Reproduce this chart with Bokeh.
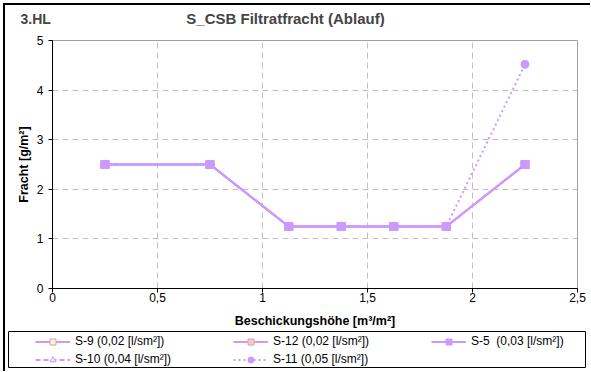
from bokeh.plotting import figure
from bokeh.layouts import column
from bokeh.models import (Range1d, FixedTicker, Label, Legend, LegendItem,
                          ColumnDataSource)
from bokeh.embed import file_html
from bokeh.resources import INLINE

# ---- data ----
x_vals = [0.25, 0.75, 1.125, 1.375, 1.625, 1.875, 2.25]
s9 = [2.5, 2.5, 1.25, 1.25, 1.25, 1.25, 2.5]
s12 = [2.5, 2.5, 1.25, 1.25, 1.25, 1.25, 2.5]
s5 = [2.5, 2.5, 1.25, 1.25, 1.25, 1.25, 2.5]
s10 = [2.5, 2.5, 1.25, 1.25, 1.25, 1.25, 2.5]
s11 = [2.5, 2.5, 1.25, 1.25, 1.25, 1.25, 4.52]
series_names = ["S-9 (0,02 [l/sm²])", "S-12 (0,02 [l/sm²])", "S-5  (0,03 [l/sm²])",
                "S-10 (0,04 [l/sm²])", "S-11 (0,05 [l/sm²])"]
x_ticks = [0, 0.5, 1, 1.5, 2, 2.5]
x_tick_labels = ["0", "0,5", "1", "1,5", "2", "2,5"]
y_ticks = [0, 1, 2, 3, 4, 5]
chart_title = "S_CSB Filtratfracht (Ablauf)"
corner_title = "3.HL"

FONT = "Liberation Sans"
LC = "#cc99ff"
OX, OY = 5, 5          # page offset of the content (outer border + margin)
W = 585

# ---- header with titles ----
HH = 30 - OY
hdr = figure(width=W, height=HH, output_backend="svg", toolbar_location=None,
             x_range=Range1d(0, W), y_range=Range1d(HH, 0),
             x_axis_type=None, y_axis_type=None, min_border=0, frame_align=False)
hdr.outline_line_color = None
hdr.xgrid.visible = False
hdr.ygrid.visible = False
hdr.add_layout(Label(x=20 - OX, y=18 - OY, text=corner_title, text_font=FONT,
                     text_font_size="14px", text_font_style="bold",
                     text_baseline="middle", text_align="left"))
hdr.add_layout(Label(x=285 - OX, y=18 - OY, text=chart_title, text_font=FONT,
                     text_font_size="15px", text_font_style="bold",
                     text_baseline="middle", text_align="center"))

# ---- main plot ----
MH = 300
p = figure(width=W, height=MH, output_backend="svg", toolbar_location=None,
           x_range=Range1d(0, 2.5), y_range=Range1d(0, 5),
           min_border_left=52 - OX, min_border_right=OX + W - 577,
           min_border_top=10, min_border_bottom=41, frame_align=False)
p.background_fill_color = "white"
p.border_fill_color = "white"
p.outline_line_color = "#a0a0a0"
p.outline_line_width = 1

for ax in (p.xaxis[0], p.yaxis[0]):
    ax.axis_line_color = "black"
    ax.axis_line_width = 1
    ax.major_tick_line_color = "black"
    ax.major_tick_out = 4
    ax.major_tick_in = 0
    ax.minor_tick_line_color = None
    ax.major_label_text_font = FONT
    ax.major_label_text_font_size = "12px"
    ax.major_label_text_color = "black"
    ax.axis_label_text_font = FONT
    ax.axis_label_text_font_size = "12.5px"
    ax.axis_label_text_font_style = "bold"
    ax.axis_label_text_color = "black"

p.xaxis.ticker = FixedTicker(ticks=x_ticks)
p.xaxis.major_label_overrides = {t: l for t, l in zip(x_ticks, x_tick_labels)}
p.xaxis.axis_label = "Beschickungshöhe [m³/m²]"
p.xaxis.major_label_standoff = 0
p.xaxis.axis_label_standoff = 9
p.yaxis.ticker = FixedTicker(ticks=y_ticks)
p.yaxis.axis_label = "Fracht [g/m²]"
p.yaxis.major_label_standoff = 5
p.yaxis.axis_label_standoff = 3

for g in (p.xgrid[0], p.ygrid[0]):
    g.grid_line_color = "#c0c0c0"
    g.grid_line_dash = "6 4"
    g.grid_line_width = 1

src = ColumnDataSource(dict(x=x_vals, s9=s9, s12=s12, s5=s5, s10=s10, s11=s11))

styles = {
    "s9": dict(dash="solid", marker="square", fill="#ffff99"),
    "s12": dict(dash="solid", marker="square", fill="#ffcc99"),
    "s5": dict(dash="solid", marker="square", fill=LC),
    "s10": dict(dash="5 3", marker="triangle", fill="#ccffff"),
    "s11": dict(dash="2 3", marker="circle", fill=LC),
}
draw_order = ["s11", "s10", "s9", "s12", "s5"]
for key in draw_order:
    st = styles[key]
    p.line("x", key, source=src, line_color=LC, line_width=2, line_dash=st["dash"])
    p.scatter("x", key, source=src, marker=st["marker"], size=8,
              fill_color=st["fill"], line_color=LC)

# ---- legend panel ----
LH = 372 - 1 - OY - HH - MH
lg = figure(width=W, height=LH, output_backend="svg", toolbar_location=None,
            x_axis_type=None, y_axis_type=None, x_range=Range1d(0, 1), y_range=Range1d(0, 1),
            min_border_left=8 - OX, min_border_right=OX + W - 585,
            min_border_top=1, min_border_bottom=LH - 37, frame_align=False)
lg.outline_line_color = "black"
lg.outline_line_width = 1
lg.xgrid.visible = False
lg.ygrid.visible = False

# legend-only renderers: a single NaN point, so nothing is drawn in the box itself
nan_src = ColumnDataSource(dict(x=[float("nan")], y=[float("nan")]))
keys = ["s9", "s12", "s5", "s10", "s11"]
legend_items = {}
for key, name in zip(keys, series_names):
    st = styles[key]
    rl = lg.line("x", "y", source=nan_src, line_color=LC, line_width=2, line_dash=st["dash"])
    rm = lg.scatter("x", "y", source=nan_src, marker=st["marker"], size=7,
                    fill_color=st["fill"], line_color=LC)
    legend_items[key] = LegendItem(label=name, renderers=[rl, rm])

# column-major fill: columns (S-9,S-10), (S-12,S-11), (S-5)
ordered = [legend_items[k] for k in ["s9", "s10", "s12", "s11", "s5"]]
legend = Legend(items=ordered, ncols=3, location=(27, 0.5),
                border_line_alpha=0, background_fill_alpha=0,
                padding=0, margin=0, spacing=3,
                glyph_width=35, glyph_height=15, label_height=15,
                label_width=155, label_standoff=5,
                label_text_font=FONT, label_text_font_size="12px",
                label_text_color="black")
lg.add_layout(legend, "center")

layout = column(hdr, p, lg, spacing=0, margin=(3, 0, 0, 3),
                styles={"border-left": "2px solid black", "border-top": "2px solid black"})
open("out.html", "w").write(file_html(layout, INLINE))
